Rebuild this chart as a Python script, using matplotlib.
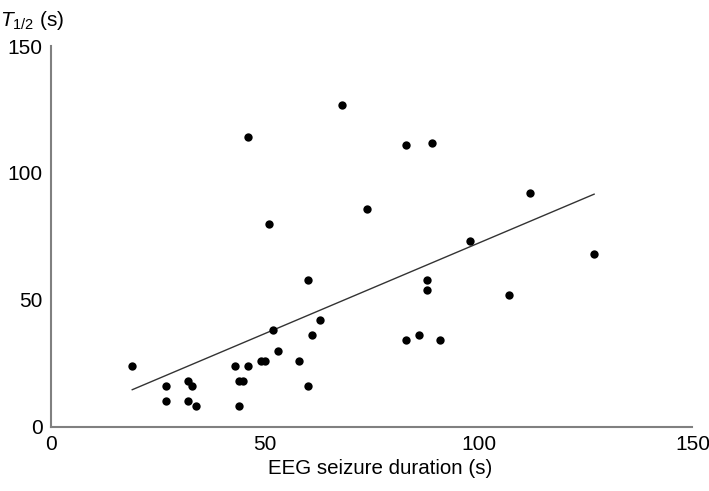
import matplotlib
matplotlib.use("Agg")
import matplotlib.pyplot as plt
import numpy as np

plt.rcParams['font.family'] = ['Liberation Sans', 'DejaVu Sans']
plt.rcParams['mathtext.fontset'] = 'custom'
plt.rcParams['mathtext.rm'] = 'Liberation Sans'
plt.rcParams['mathtext.it'] = 'Liberation Sans:italic'

eeg_duration = [19, 27, 27, 32, 33, 32, 34, 43, 44, 45, 46, 44, 49, 50, 52, 53,
                58, 60, 60, 61, 63, 46, 51, 68, 83, 89, 74, 112, 98, 127, 88, 88,
                107, 83, 86, 91]
t_half = [24, 16, 10, 18, 16, 10, 8, 24, 18, 18, 24, 8, 26, 26, 38, 30,
          26, 58, 16, 36, 42, 114, 80, 127, 111, 112, 86, 92, 73, 68, 58, 54,
          52, 34, 36, 34]
x_ticks = [0, 50, 100, 150]
y_ticks = [0, 50, 100, 150]

x = np.array(eeg_duration, dtype=float)
y = np.array(t_half, dtype=float)

fig = plt.figure(figsize=(7.09, 4.91), dpi=100)
ax = fig.add_axes([0.0719, 0.131, 0.9048, 0.775])

ax.scatter(x, y, s=36, color='black', zorder=3, linewidths=0)
slope, intercept = np.polyfit(x, y, 1)
xl = np.array([x.min(), x.max()])
ax.plot(xl, slope * xl + intercept, color='#333333', lw=1.0)

ax.set_xlim(0, 150)
ax.set_ylim(0, 150)
ax.set_xticks(x_ticks)
ax.set_yticks(y_ticks)
ax.tick_params(length=0, labelsize=15, pad=6)
for s in ['top', 'right']:
    ax.spines[s].set_visible(False)
for s in ['left', 'bottom']:
    ax.spines[s].set_color('#808080')
    ax.spines[s].set_linewidth(1.5)

fig.text(0.536, 0.045, 'EEG seizure duration (s)', fontsize=14.8, ha='center', va='center')
fig.text(0.0, 0.958, r'$T_{\rm 1/2}$ (s)', fontsize=15, ha='left', va='center')

fig.savefig('out.png', dpi=100)
